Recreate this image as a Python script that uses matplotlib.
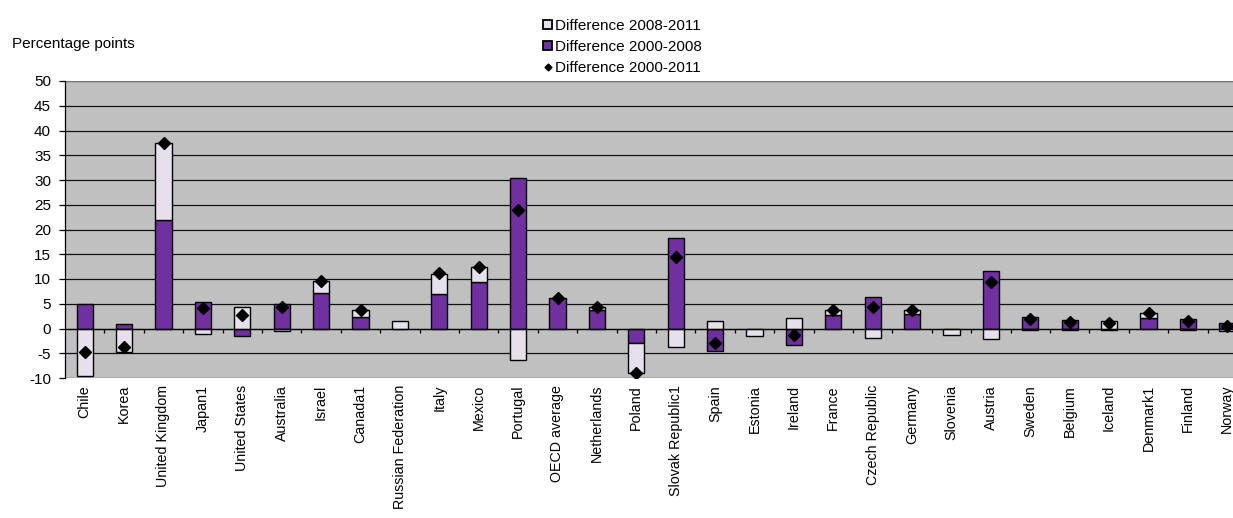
import numpy as np
import matplotlib
matplotlib.use("Agg")
import matplotlib.pyplot as plt
from matplotlib.lines import Line2D
from matplotlib.patches import Patch

plt.rcParams['font.family'] = ['Liberation Sans', 'DejaVu Sans']
plt.rcParams['axes.unicode_minus'] = False

countries = ["Chile", "Korea", "United Kingdom", "Japan1", "United States",
             "Australia", "Israel", "Canada1", "Russian Federation", "Italy",
             "Mexico", "Portugal", "OECD average", "Netherlands", "Poland",
             "Slovak Republic1", "Spain", "Estonia", "Ireland", "France",
             "Czech Republic", "Germany", "Slovenia", "Austria", "Sweden",
             "Belgium", "Iceland", "Denmark1", "Finland", "Norway"]

nan = np.nan
diff_2000_2008 = [4.9, 1.0, 22.0, 5.3, -1.6, 4.95, 7.2, 2.3, nan, 6.9,
                  9.3, 30.4, 6.1, 3.8, -3.0, 18.2, -4.45, nan, -3.35, 2.8,
                  6.3, 2.9, nan, 11.6, 2.3, 1.75, -0.3, 2.1, 1.9, 1.1]
diff_2008_2011 = [-9.5, -4.7, 15.5, -1.1, 4.4, -0.6, 2.4, 1.4, 1.55, 4.2,
                  3.1, -6.4, nan, 0.6, -5.9, -3.8, 1.5, -1.5, 2.1, 0.9,
                  -1.95, 0.8, -1.35, -2.15, -0.4, -0.3, 1.6, 1.1, -0.4, -0.6]
diff_2000_2011 = [-4.7, -3.7, 37.5, 4.1, 2.8, 4.3, 9.6, 3.7, nan, 11.2,
                  12.4, 23.9, 6.1, 4.4, -8.9, 14.4, -2.9, nan, -1.3, 3.7,
                  4.4, 3.7, nan, 9.4, 1.9, 1.4, 1.2, 3.1, 1.5, 0.5]

yticks = list(range(-10, 51, 5))

purple = "#7030A0"
lavender = "#E6E0EC"
plot_bg = "#C0C0C0"

W, H = 1233, 518
fig = plt.figure(figsize=(W / 100, H / 100), dpi=100)
ax = fig.add_axes([65 / W, 1 - 378 / H, (1247 - 65) / W, (378 - 81) / H])
ax.set_facecolor(plot_bg)

x = np.arange(len(countries))
p = np.array(diff_2000_2008, dtype=float)
l = np.array(diff_2008_2011, dtype=float)
t = np.array(diff_2000_2011, dtype=float)

# lighter segment sits on top of the 2000-2008 bar when both share a sign
p0 = np.nan_to_num(p)
same = np.sign(p0) == np.sign(np.nan_to_num(l))
l_bottom = np.where(same, p0, 0.0)

bw = 0.41
ax.bar(x, p, width=bw, color=purple, edgecolor="black", linewidth=1.0, zorder=3)
ax.bar(x, l, width=bw, bottom=l_bottom, color=lavender, edgecolor="black",
       linewidth=1.0, zorder=3)
ax.plot(x, t, linestyle="none", marker="D", markersize=6.5, color="black",
        zorder=4)

ax.set_xlim(-0.5, len(countries) - 0.5)
ax.set_ylim(-10, 50)
ax.set_yticks(yticks)
ax.yaxis.grid(True, color="#111111", linewidth=0.9, zorder=1)
ax.set_axisbelow(True)
ax.tick_params(axis="y", direction="out", length=4, width=0.9, pad=6,
               labelsize=11, colors="black")

for side in ("top", "right"):
    ax.spines[side].set_visible(False)
ax.spines["left"].set_color("black")
ax.spines["left"].set_linewidth(0.9)
ax.axhline(50, color="#8a8a8a", linewidth=1.2, zorder=2)

# category axis crosses at zero with ticks between the columns
ax.spines["bottom"].set_position(("data", 0))
ax.spines["bottom"].set_color("black")
ax.spines["bottom"].set_linewidth(0.9)
ax.spines["bottom"].set_zorder(5)
ax.set_xticks(np.arange(len(countries)) + 0.5)
ax.tick_params(axis="x", direction="out", length=3, width=0.9, labelbottom=False)

sec = ax.secondary_xaxis("bottom")
sec.spines["bottom"].set_visible(False)
sec.set_xticks(x, countries, rotation=90, fontsize=10.3)
sec.tick_params(axis="x", length=0, pad=5)

fig.text(12 / W, 1 - 48 / H, "Percentage points", fontsize=11, va="baseline")

handles = [
    Patch(facecolor=lavender, edgecolor="black", linewidth=1.3),
    Patch(facecolor=purple, edgecolor="black", linewidth=1.3),
    Line2D([], [], linestyle="none", marker="D", markersize=3.5, color="black"),
]
labels = ["Difference 2008-2011", "Difference 2000-2008", "Difference 2000-2011"]
fig.legend(handles, labels, loc="upper left", bbox_to_anchor=(543 / W, 1 - 19 / H),
           frameon=False, fontsize=11, handlelength=0.6, handleheight=0.6,
           handletextpad=0.2, labelspacing=0.45, borderpad=0, borderaxespad=0)

fig.savefig("out.png", dpi=100)
